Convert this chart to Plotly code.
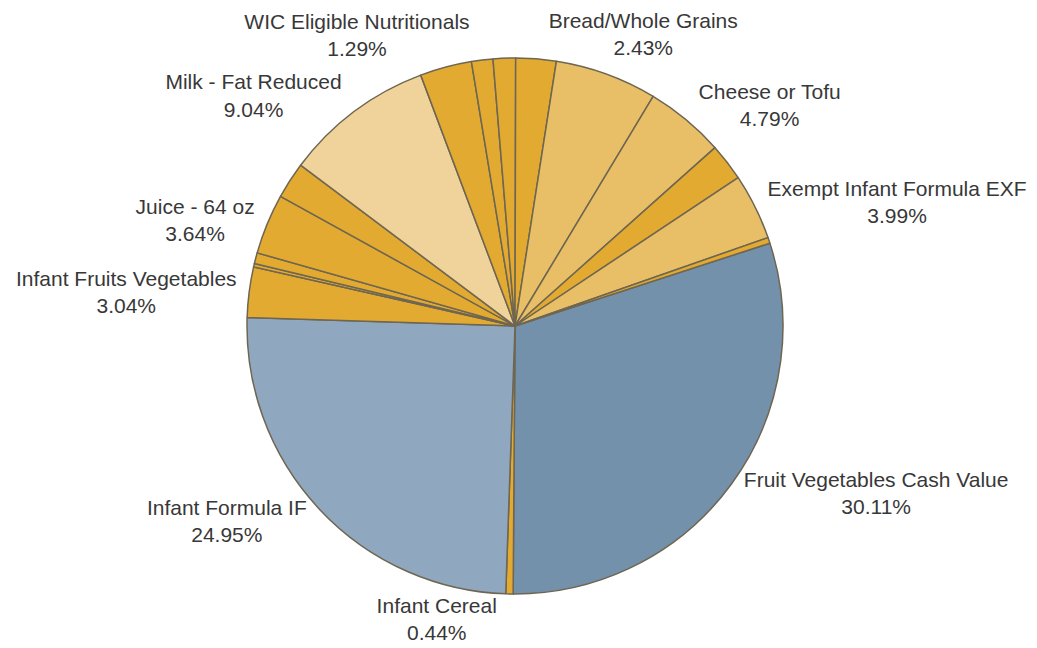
import plotly.graph_objects as go

# Slices in clockwise order, starting at the right edge of "Fruit Vegetables Cash Value"
labels = [
    "Fruit Vegetables Cash Value",
    "Infant Cereal",
    "Infant Formula IF",
    "Infant Fruits Vegetables",
    "Other A",
    "Other B",
    "Juice - 64 oz",
    "Other C",
    "Milk - Fat Reduced",
    "Other D",
    "WIC Eligible Nutritionals",
    "Other E",
    "Bread/Whole Grains",
    "Other F",
    "Cheese or Tofu",
    "Other G",
    "Exempt Infant Formula EXF",
    "Other H",
]
values = [30.11, 0.44, 24.95, 3.04, 0.20, 0.66, 3.64, 2.20, 9.04, 3.12,
          1.29, 1.35, 2.43, 6.15, 4.79, 2.25, 3.99, 0.35]
shown = [True, True, True, True, False, False, True, False, True, False,
         True, False, True, False, True, False, True, False]

DARK_BLUE = "#7491ab"
LIGHT_BLUE = "#8fa8bf"
DARK_GOLD = "#e2aa30"
MID_GOLD = "#e8bf66"
LIGHT_GOLD = "#f0d39a"
colors = [DARK_BLUE, DARK_GOLD, LIGHT_BLUE, DARK_GOLD, DARK_GOLD, DARK_GOLD,
          DARK_GOLD, DARK_GOLD, LIGHT_GOLD, DARK_GOLD, DARK_GOLD, DARK_GOLD,
          DARK_GOLD, MID_GOLD, MID_GOLD, DARK_GOLD, MID_GOLD, DARK_GOLD]

start_angle = 72  # degrees clockwise from 12 o'clock

fig = go.Figure(
    go.Pie(
        labels=labels,
        values=values,
        sort=False,
        direction="clockwise",
        rotation=start_angle,
        marker=dict(colors=colors, line=dict(color="#6e6652", width=1.5)),
        textposition=["outside" if s else "none" for s in shown],
        texttemplate="%{label}<br>%{percent:.2%}",
        outsidetextfont=dict(family="Liberation Sans, Arial, sans-serif", size=21, color="#383838"),
        hoverinfo="label+percent",
        showlegend=False,
        automargin=False,
        domain=dict(x=[247 / 1037, 783 / 1037], y=[54 / 648, 590 / 648]),
    )
)

fig.update_layout(
    width=1037,
    height=648,
    margin=dict(l=0, r=0, t=0, b=0, pad=0, autoexpand=False),
    showlegend=False,
    paper_bgcolor="white",
    plot_bgcolor="white",
)

fig.write_html(
    "out.html",
    config={"displayModeBar": False},
    post_script="document.body.style.margin='0px';document.body.style.overflow='hidden';",
)
